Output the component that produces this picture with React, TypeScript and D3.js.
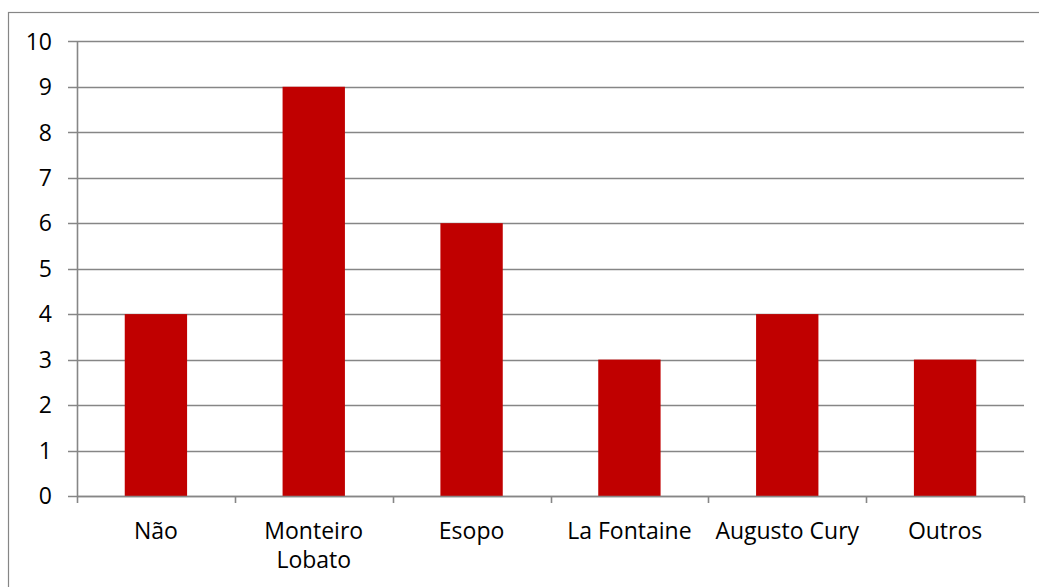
import React from "react";
import * as d3 from "d3";

const categories: string[][] = [
  ["Não"],
  ["Monteiro", "Lobato"],
  ["Esopo"],
  ["La Fontaine"],
  ["Augusto Cury"],
  ["Outros"],
];
const values: number[] = [4, 9, 6, 3, 4, 3];
const yTicks: number[] = [0, 1, 2, 3, 4, 5, 6, 7, 8, 9, 10];

const W = 1039;
const H = 587;
const left = 77;
const right = 1024;
const top = 41.3;
const bottom = 496;
const gridColor = "#868686";
const barColor = "#C00000";
const font = "'Open Sans', sans-serif";

export default function App() {
  const keys = categories.map((c) => c.join(" "));
  const x = d3.scaleBand<string>().domain(keys).range([left, right]).paddingInner(0.605).paddingOuter(0.3025);
  const xb = d3.scaleBand<string>().domain(keys).range([left, right]);
  const y = d3.scaleLinear().domain([0, 10]).range([bottom, top]);

  return (
    <svg
      width={W}
      height={H}
      style={{ position: "absolute", left: 0, top: 0, background: "#fff" }}
    >
      <rect x={8.5} y={12.5} width={1100} height={700} fill="#fff" stroke={gridColor} strokeWidth={1.2} />
      {yTicks.map((t) => (
        <line
          key={"g" + t}
          x1={68}
          x2={right}
          y1={Math.round(y(t)) + 0.5}
          y2={Math.round(y(t)) + 0.5}
          stroke={gridColor}
          strokeWidth={1.6}
        />
      ))}
      {yTicks.map((t) => (
        <text
          key={"t" + t}
          x={52}
          y={y(t)}
          dy="0.36em"
          textAnchor="end"
          fontFamily={font}
          fontSize={23}
          fill="#000"
        >
          {t}
        </text>
      ))}
      {values.map((v, i) => (
        <rect
          key={"b" + i}
          x={x(keys[i])}
          width={x.bandwidth()}
          y={y(v)}
          height={y(0) - y(v)}
          fill={barColor}
        />
      ))}
      <line x1={left + 0.5} x2={left + 0.5} y1={top} y2={bottom + 7} stroke={gridColor} strokeWidth={1.6} />
      <line x1={left} x2={right} y1={bottom + 0.5} y2={bottom + 0.5} stroke={gridColor} strokeWidth={1.6} />
      {keys.map((k, i) => (
        <line
          key={"xt" + i}
          x1={Math.round(xb(k)! + xb.bandwidth()) + 0.5}
          x2={Math.round(xb(k)! + xb.bandwidth()) + 0.5}
          y1={bottom}
          y2={bottom + 7}
          stroke={gridColor}
          strokeWidth={1.6}
        />
      ))}
      {categories.map((lines, i) => (
        <text
          key={"xl" + i}
          x={xb(keys[i])! + xb.bandwidth() / 2}
          y={539}
          textAnchor="middle"
          fontFamily={font}
          fontSize={23}
          fill="#000"
        >
          {lines.map((l, j) => (
            <tspan key={j} x={xb(keys[i])! + xb.bandwidth() / 2} dy={j === 0 ? 0 : 29}>
              {l}
            </tspan>
          ))}
        </text>
      ))}
    </svg>
  );
}
